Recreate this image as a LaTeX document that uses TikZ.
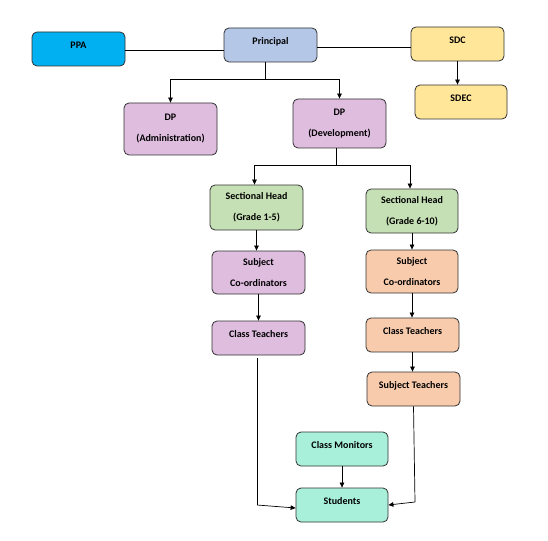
\documentclass[tikz,border=0pt]{standalone}
\usepackage{fontspec}
\setmainfont{Carlito}
\usetikzlibrary{arrows.meta,calc}
\definecolor{ppaC}{RGB}{0,176,240}
\definecolor{prinC}{RGB}{180,199,231}
\definecolor{sdcC}{RGB}{255,230,153}
\definecolor{purpC}{RGB}{223,189,223}
\definecolor{greenC}{RGB}{197,224,180}
\definecolor{orangeC}{RGB}{248,203,173}
\definecolor{tealC}{RGB}{168,240,218}
\definecolor{edgeC}{RGB}{50,50,50}
\tikzset{
  box/.style={rectangle, rounded corners=5pt, draw=edgeC, line width=0.8pt,
    minimum width=93pt, minimum height=34pt, inner sep=0pt,
    font=\fontsize{10}{12}\selectfont\bfseries, align=center},
  one/.style={text height=7pt, text depth=8pt},
  conn/.style={line width=0.7pt, draw=black},
  arr/.style={conn, -{Triangle[length=5pt,width=4.5pt]}}
}
\begin{document}
\begin{tikzpicture}[x=1pt,y=-1pt]
\useasboundingbox[fill=white] (0,0) rectangle (548,540);
% nodes
\node[box,one,fill=ppaC] (ppa) at (78.5,49) {PPA};
\node[box,one,fill=prinC] (prin) at (270.5,45) {Principal};
\node[box,one,fill=sdcC] (sdc) at (457.5,44) {SDC};
\node[box,one,fill=sdcC, minimum width=92pt] (sdec) at (461,102) {SDEC};
\node[box,fill=purpC, minimum height=52pt] (dpa) at (170.5,129) {DP\\[9pt](Administration)};
\node[box,fill=purpC, minimum height=49pt] (dpd) at (339.5,123.5) {DP\\[9pt](Development)};
\node[box,fill=greenC, minimum height=45pt] (sh1) at (256.5,207.5) {Sectional Head\\[9pt](Grade 1-5)};
\node[box,fill=greenC, minimum height=44pt, minimum width=92pt] (sh2) at (412,211) {Sectional Head\\[9pt](Grade 6-10)};
\node[box,fill=purpC, minimum height=43pt] (sc1) at (258.5,272.5) {Subject\\[9pt]Co-ordinators};
\node[box,fill=orangeC, minimum height=43pt, minimum width=92pt] (sc2) at (412,271.5) {Subject\\[9pt]Co-ordinators};
\node[box,one,fill=purpC] (ct1) at (258.5,338) {Class Teachers};
\node[box,one,fill=orangeC] (ct2) at (412.5,335) {Class Teachers};
\node[box,one,fill=orangeC] (st) at (413.5,389) {Subject Teachers};
\node[box,one,fill=tealC, minimum width=92pt] (cm) at (342,449) {Class Monitors};
\node[box,one,fill=tealC, minimum width=92pt] (stu) at (342,505) {Students};
% junctions
\coordinate (j1) at (265,79);
\coordinate (j2) at (336,165);
\coordinate (k1) at (257,505);
\coordinate (k2) at (415,502);
% connectors
\draw[conn] ([yshift=-1pt]ppa.east) -- ([yshift=-1pt]ppa.east -| prin.west);
\draw[conn] ([yshift=-2pt]prin.east) -- ([yshift=-2pt]prin.east -| sdc.west);
\draw[conn] (j1 |- prin.south) -- (j1);
\draw[arr] (j1) -| (dpa.north);
\draw[arr] (j1) -| (dpd.north);
\draw[arr] (sdc.south) -- (sdc.south |- sdec.north);
\draw[conn] (j2 |- dpd.south) -- (j2);
\draw[arr] (j2) -| ([xshift=-2pt]sh1.north);
\draw[arr] (j2) -| ([xshift=-2pt]sh2.north);
\draw[arr] (sh1.south) -- (sh1.south |- sc1.north);
\draw[arr] (sh2.south) -- (sh2.south |- sc2.north);
\draw[arr] (sc1.south) -- (sc1.south |- ct1.north);
\draw[arr] (sc2.south) -- (sc2.south |- ct2.north);
\draw[arr] (ct2.south) -- (ct2.south |- st.north);
\draw[conn] ([yshift=-3pt]k1 |- ct1.south) -- (k1);
\draw[arr] (k1) -- ([yshift=-3pt]stu.west);
\draw[conn] (st.south) -- (k2);
\draw[arr] (k2) -- (stu.east);
\draw[arr] (cm.south) -- (stu.north);
\end{tikzpicture}
\end{document}
